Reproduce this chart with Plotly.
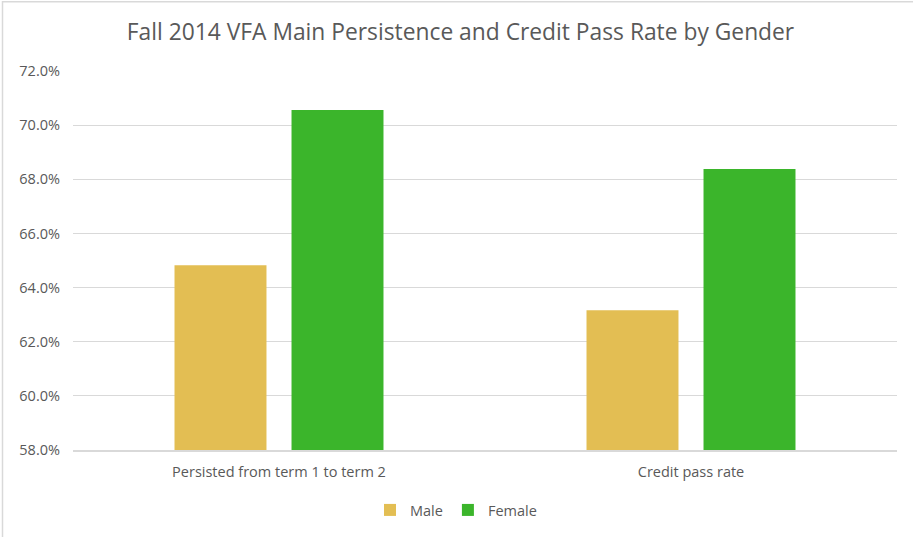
import plotly.graph_objects as go

categories = ["Persisted from term 1 to term 2", "Credit pass rate"]
male = [0.6482, 0.6316]
female = [0.7056, 0.6838]
y_ticks = [0.58, 0.60, 0.62, 0.64, 0.66, 0.68, 0.70, 0.72]

MALE_COLOR = "#E3BE53"
FEMALE_COLOR = "#3BB52B"
TEXT_COLOR = "#595959"
FONT = "Open Sans"

W, H = 913, 537
L, R, T, B = 73, 16, 71, 86
pw, ph = W - L - R, H - T - B

fig = go.Figure()
fig.add_trace(go.Bar(x=categories, y=male, name="Male", marker=dict(color=MALE_COLOR, line_width=0)))
fig.add_trace(go.Bar(x=categories, y=female, name="Female", marker=dict(color=FEMALE_COLOR, line_width=0)))

# light chart frame like the office chart border
fig.add_shape(
    type="rect", xref="paper", yref="paper",
    x0=(2.5 - L) / pw, x1=(W + 5 - L) / pw,
    y0=-(H + 5 - (T + ph)) / ph, y1=(T + ph - 1.5) / ph,
    line=dict(color="#D9D9D9", width=1.5), fillcolor="rgba(0,0,0,0)", layer="below",
)

fig.update_layout(
    width=W, height=H,
    margin=dict(l=L, r=R, t=T, b=B),
    plot_bgcolor="white", paper_bgcolor="white",
    font=dict(family=FONT, color=TEXT_COLOR, size=14.5),
    title=dict(
        text="Fall 2014 VFA Main Persistence and Credit Pass Rate by Gender",
        x=(W / 2 + 4) / W, xanchor="center", y=1 - 32 / H, yanchor="middle",
        font=dict(family=FONT, size=22.8, color=TEXT_COLOR),
        xref="container",
    ),
    barmode="group", bargap=0.432, bargroupgap=0.214,
    showlegend=True,
    legend=dict(
        orientation="h", x=(456 - L) / pw, xanchor="center",
        y=-(510 - (T + ph)) / ph, yanchor="middle",
        font=dict(size=14.5, color=TEXT_COLOR), itemwidth=30, traceorder="normal",
    ),
    xaxis=dict(
        showgrid=False, showline=True, linecolor="#D9D9D9", linewidth=1.5,
        ticks="", tickfont=dict(size=14.5, color=TEXT_COLOR), ticklabelstandoff=8,
    ),
    yaxis=dict(
        range=[0.58, 0.72], tickvals=y_ticks, tickformat=".1%",
        showgrid=True, gridcolor="#D9D9D9", gridwidth=1,
        zeroline=False, showline=False, ticks="",
        tickfont=dict(size=14.5, color=TEXT_COLOR), ticklabelstandoff=12,
    ),
)

# page body has a default 8px margin; drop it so the chart sits at the window corner
fig.write_html(
    "out.html",
    config={"displayModeBar": False},
    post_script="document.body.style.margin='0';",
)
